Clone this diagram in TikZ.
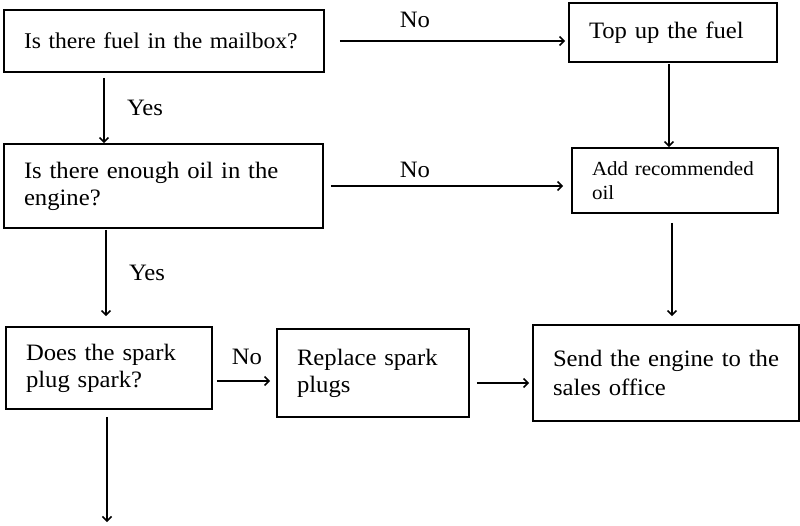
\documentclass[tikz,border=0pt]{standalone}
\usepackage{fontspec}
\setmainfont{Liberation Serif}[FakeStretch=1.05]
\usepackage{tikz}
\usetikzlibrary{arrows.meta}

\begin{document}
\begin{tikzpicture}[x=1pt,y=-1pt,
  box/.style={draw,line width=1.8pt,inner xsep=20pt,inner ysep=0pt,align=left,font=\fontsize{23.5}{27}\selectfont},
  lbl/.style={font=\fontsize{23.5}{27}\selectfont},
  arr/.style={-{Straight Barb[length=4.5pt,width=9pt]},line width=1.5pt}]
\useasboundingbox (0,0) rectangle (800,525);
\node [box,minimum height=62pt,text width=280pt,font=\fontsize{22.5}{27}\selectfont] (fuel) at (164,41) {\mbox{Is there fuel in the mailbox?}};
\node [box,minimum height=59pt,text width=168pt] (topup) at (673,32.5) {Top up the fuel};
\node [box,minimum height=84pt,text width=279pt] (oilq) at (163.5,186) {Is there enough oil in the\\engine?};
\node [box,minimum height=65pt,text width=166pt,font=\fontsize{20}{24.5}\selectfont] (addoil) at (675,180.5) {Add recommended\\oil};
\node [box,minimum height=82pt,text width=166pt] (sparkq) at (109,368) {Does the spark\\plug spark?};
\node [box,minimum height=88pt,text width=152pt] (replace) at (373,373) {Replace spark\\plugs};
\node [box,minimum height=96pt,text width=226pt,font=\fontsize{23.5}{28.5}\selectfont] (send) at (666,373) {Send the engine to the\\sales office};
\coordinate (out) at (107,522);
\node [lbl] (no1) at (415,20) {No};
\node [lbl] (yes1) at (145,108) {Yes};
\node [lbl] (no2) at (415,170) {No};
\node [lbl] (yes2) at (147,273) {Yes};
\node [lbl] (no3) at (247,357) {No};
\draw [arr,shorten <=15pt,shorten >=3pt] (fuel.east) -- (fuel.east -| topup.west);
\draw [arr,shorten <=5pt] ([xshift=-60pt]fuel.south) -- ([xshift=-60pt]fuel.south |- oilq.north);
\draw [arr,shorten <=1pt] ([xshift=-4pt]topup.south) -- ([xshift=-4pt]topup.south |- addoil.north);
\draw [arr,shorten <=7pt,shorten >=8pt] (oilq.east) -- (oilq.east -| addoil.west);
\draw [arr,shorten <=1pt,shorten >=10pt] ([xshift=-57.5pt]oilq.south) -- ([xshift=-57.5pt]oilq.south |- sparkq.north);
\draw [arr,shorten <=9pt,shorten >=8pt] ([xshift=-3pt]addoil.south) -- ([xshift=-3pt]addoil.south |- send.north);
\draw [arr,shorten <=4pt,shorten >=6pt] ([yshift=-13pt]sparkq.east) -- ([yshift=-13pt]sparkq.east -| replace.west);
\draw [arr,shorten <=7pt,shorten >=3pt] ([yshift=-10pt]replace.east) -- ([yshift=-10pt]replace.east -| send.west);
\draw [arr,shorten <=7pt] ([xshift=-2pt]sparkq.south) -- (out);
\end{tikzpicture}
\end{document}
